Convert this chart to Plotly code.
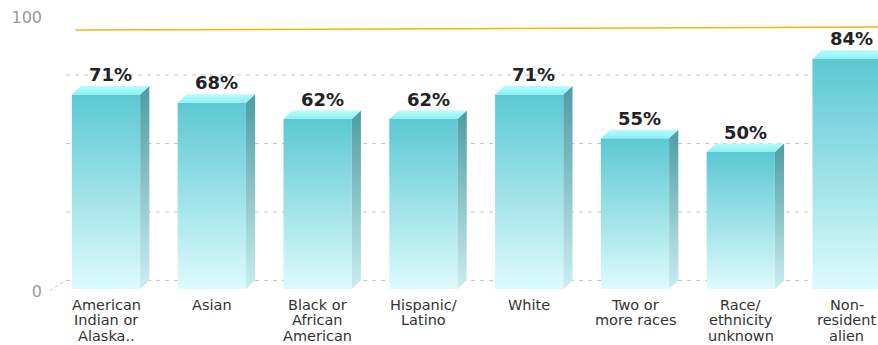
import plotly.graph_objects as go

categories = [
    "American\nIndian or\nAlaska..",
    "Asian",
    "Black or\nAfrican\nAmerican",
    "Hispanic/\nLatino",
    "White",
    "Two or\nmore races",
    "Race/\nethnicity\nunknown",
    "Non-\nresident\nalien",
]
values = [71, 68, 62, 62, 71, 55, 50, 84]
grid_values = [0, 25, 50, 75]
ytick_vals = [0, 100]
ref_line = [94.5, 95.6]

# geometry (data units)
W = 0.645          # front face width
DX = 0.087         # depth offset in x
DY = 3.1           # depth offset in y
X_RANGE = [-0.5766, 7.2968]
Y_RANGE = [-20.44, 105.47]

front_cs = [[0, "#ddfbfd"], [1, "#5cc8d2"]]
side_cs = [[0, "#cbedf0"], [1, "#4c9ca4"]]
top_cs = [[0, "#8cf0f5"], [1, "#b6fcff"]]

fig = go.Figure()

for i, v in enumerate(values):
    xl, xr = i - W / 2, i + W / 2
    # front face
    fig.add_trace(go.Scatter(
        x=[xl, xr, xr, xl, xl], y=[0, 0, v, v, 0],
        mode="lines", line=dict(width=0), fill="toself",
        fillgradient=dict(type="vertical", colorscale=front_cs, start=0, stop=v),
        hoverinfo="skip", showlegend=False))
    # side face
    fig.add_trace(go.Scatter(
        x=[xr, xr + DX, xr + DX, xr, xr], y=[0, DY, v + DY, v, 0],
        mode="lines", line=dict(width=0), fill="toself",
        fillgradient=dict(type="vertical", colorscale=side_cs, start=0, stop=v + DY),
        hoverinfo="skip", showlegend=False))
    # top face
    fig.add_trace(go.Scatter(
        x=[xl, xr, xr + DX, xl + DX, xl], y=[v, v, v + DY, v + DY, v],
        mode="lines", line=dict(width=0), fill="toself",
        fillgradient=dict(type="vertical", colorscale=top_cs, start=v, stop=v + DY),
        hoverinfo="skip", showlegend=False))

shapes = []
back_left = X_RANGE[0] + 0.2
for g in grid_values:
    shapes.append(dict(type="line", xref="x", yref="y", layer="below",
                       x0=back_left, x1=X_RANGE[1], y0=g + DY, y1=g + DY,
                       line=dict(color="#c4c4c4", width=1, dash="4px,5px")))
# floor left edge
shapes.append(dict(type="line", xref="x", yref="y", layer="below",
                   x0=X_RANGE[0] + 0.05, x1=back_left, y0=-0.5, y1=DY,
                   line=dict(color="#c4c4c4", width=1, dash="3px,3px")))
# reference line
shapes.append(dict(type="line", xref="x", yref="y", layer="below",
                   x0=-0.29, x1=X_RANGE[1], y0=ref_line[0], y1=ref_line[1],
                   line=dict(color="#f5b50a", width=1.5)))

annotations = []
for i, v in enumerate(values):
    annotations.append(dict(
        x=i + DX / 2, y=v + DY, xref="x", yref="y", text=f"{v}%",
        showarrow=False, yanchor="bottom", yshift=-1,
        font=dict(family="DejaVu Sans", size=18, color="#222222", weight="bold")))
    for j, line in enumerate(categories[i].split("\n")):
        annotations.append(dict(
            x=i, y=0, xref="x", yref="y", text=line, showarrow=False,
            yanchor="middle", yshift=-(16 + 15.3 * j),
            font=dict(family="DejaVu Sans", size=14.5, color="#333333")))

fig.update_layout(
    width=878, height=345,
    margin=dict(l=45, r=0, t=0, b=0),
    paper_bgcolor="white", plot_bgcolor="white",
    shapes=shapes, annotations=annotations,
    xaxis=dict(range=X_RANGE, visible=False, fixedrange=True),
    yaxis=dict(range=Y_RANGE, tickvals=ytick_vals, ticktext=[str(t) for t in ytick_vals],
               showgrid=False, zeroline=False, showline=False, ticks="",
               ticklabelstandoff=2, ticklabelshift=2,
               tickfont=dict(family="DejaVu Sans", size=16, color="#9a9a9a")),
)

fig.write_html("out.html")
